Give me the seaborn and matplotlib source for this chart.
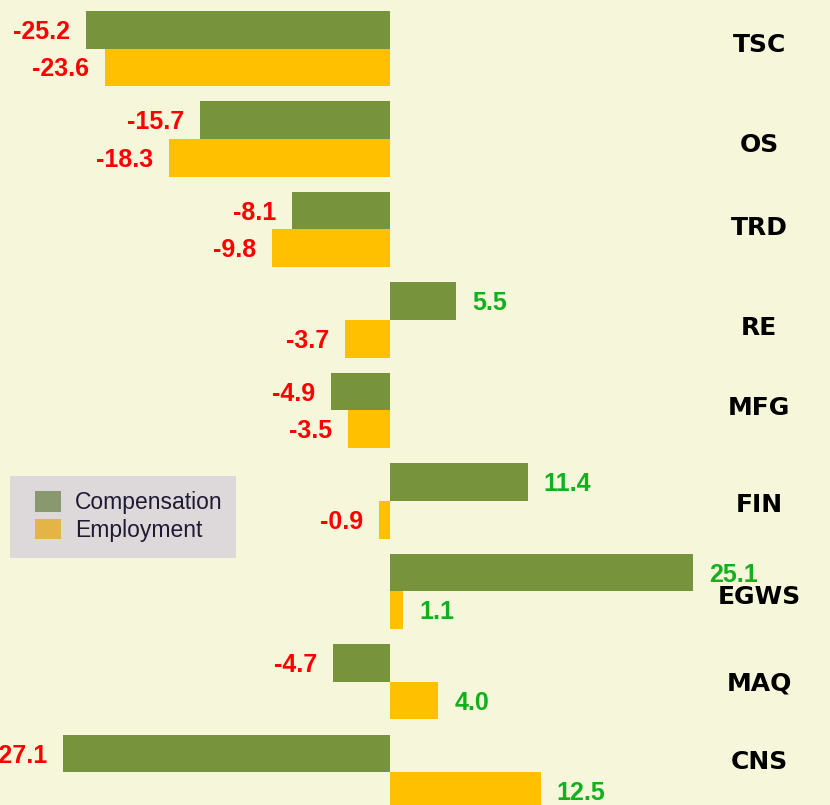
import numpy as np
import pandas as pd
import seaborn as sns
import matplotlib.pyplot as plt
from matplotlib.patches import Patch, Rectangle

sectors = ["TSC", "OS", "TRD", "RE", "MFG", "FIN", "EGWS", "MAQ", "CNS"]
compensation = [-25.2, -15.7, -8.1, 5.5, -4.9, 11.4, 25.1, -4.7, -27.1]
employment = [-23.6, -18.3, -9.8, -3.7, -3.5, -0.9, 1.1, 4.0, 12.5]
series = ["Compensation", "Employment"]

# small vertical nudges of the sector names, as in the original slide
name_nudge = [-0.04, 0.07, -0.02, 0.09, -0.03, 0.04, 0.06, 0.02, -0.12]

df = pd.DataFrame({
    "sector": sectors * 2,
    "series": [series[0]] * len(sectors) + [series[1]] * len(sectors),
    "value": compensation + employment,
})

bg = "#F6F6DA"
bar_colors = {"Compensation": "#77933C", "Employment": "#FFC000"}

sns.set_theme(style="white")
plt.rcParams["font.family"] = ["Liberation Sans", "DejaVu Sans"]

fig = plt.figure(figsize=(8.3, 8.05), dpi=100, facecolor=bg)
ax = fig.add_axes([0, 0, 1, 1])
ax.set_facecolor(bg)

sns.barplot(data=df, y="sector", x="value", hue="series", orient="h",
            palette=bar_colors, width=0.83, saturation=1, legend=False,
            edgecolor="none", ax=ax)

ax.set_xlim(-32.3, 36.45)
ax.set_ylim(8.36, -0.536)
ax.set_xlabel("")
ax.set_ylabel("")
ax.set_xticks([])
ax.set_yticks([])
for s in ax.spines.values():
    s.set_visible(False)

# value labels, red for negative, green for positive
for cont in ax.containers:
    texts = ax.bar_label(cont, fmt="%.1f", padding=11.5, fontsize=18,
                         fontweight="bold", clip_on=False)
    for t in texts:
        v = float(t.get_text())
        t.set_color("#FF0000" if v < 0 else "#12B01C")
        t.set_va("center")
        x, y = t.xyann
        t.xyann = (x, y - 1.5)

# sector names on the right
for i, (name, dy) in enumerate(zip(sectors, name_nudge)):
    ax.text(30.6, i + dy, name, ha="center", va="center", fontsize=18,
            fontweight="bold", family="DejaVu Sans", color="black")

# legend box
ax.add_patch(Rectangle((10 / 830, 1 - 558 / 805), 226 / 830, 82 / 805,
                       transform=ax.transAxes, facecolor="#DDD8DA",
                       edgecolor="none", zorder=3))
handles = [Patch(facecolor="#8A9870", edgecolor="none"),
           Patch(facecolor="#E5B447", edgecolor="none")]
leg = ax.legend(handles, series, loc="upper left",
                bbox_to_anchor=(35 / 830, 1 - 491 / 805), borderaxespad=0,
                borderpad=0, frameon=False, fontsize=16.5, handlelength=1.15,
                handleheight=1.0, handletextpad=0.6, labelspacing=0.2)
leg.set_zorder(4)
for t in leg.get_texts():
    t.set_color("#1F1A33")

plt.savefig("out.png", dpi=100, facecolor=bg)
